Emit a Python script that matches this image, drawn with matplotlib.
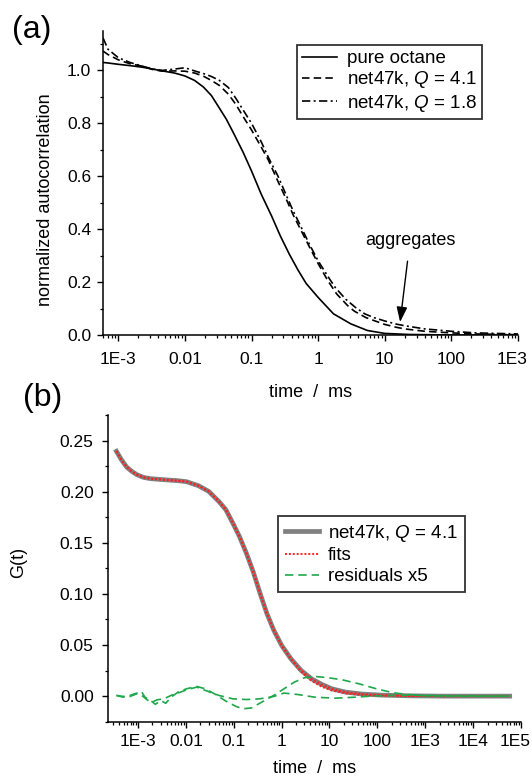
import numpy as np
import matplotlib
matplotlib.use("Agg")
import matplotlib.pyplot as plt
from matplotlib.ticker import FixedLocator, FixedFormatter, LogLocator, NullFormatter, MultipleLocator

plt.rcParams['font.family'] = ['Liberation Sans', 'DejaVu Sans']
plt.rcParams['mathtext.fontset'] = 'custom'
plt.rcParams['mathtext.rm'] = 'Liberation Sans'
plt.rcParams['mathtext.it'] = 'Liberation Sans:italic'

# ---------------- panel (a) data ----------------
t_oct = [5.9e-4, 7e-4, 1e-3, 1.5e-3, 2.3e-3, 3.3e-3, 4.6e-3, 7e-3, 0.01, 0.014, 0.019, 0.025,
         0.031, 0.042, 0.055, 0.075, 0.1, 0.14, 0.2, 0.27, 0.37, 0.5, 0.66, 1.0, 1.7, 3.1,
         5.5, 10, 23, 100, 1000]
g_oct = [1.030, 1.028, 1.023, 1.018, 1.012, 1.005, 0.998, 0.990, 0.979, 0.962, 0.937, 0.905,
         0.868, 0.815, 0.758, 0.690, 0.620, 0.532, 0.450, 0.375, 0.305, 0.245, 0.195, 0.142,
         0.080, 0.042, 0.017, 0.006, 0.002, 0.0, 0.0]

t_q41 = [5.9e-4, 7e-4, 1e-3, 1.5e-3, 2.3e-3, 3.3e-3, 4.6e-3, 7e-3, 0.01, 0.014, 0.019, 0.025,
         0.033, 0.045, 0.058, 0.075, 0.1, 0.14, 0.18, 0.25, 0.33, 0.42, 0.53, 0.75, 1.0, 1.4,
         1.9, 2.8, 3.5, 5.2, 7, 10, 15, 20, 40, 100, 230, 1000]
g_q41 = [1.073, 1.060, 1.040, 1.025, 1.016, 1.003, 0.997, 0.998, 0.997, 0.990, 0.978, 0.962,
         0.943, 0.910, 0.872, 0.825, 0.775, 0.710, 0.660, 0.580, 0.515, 0.455, 0.405, 0.330,
         0.270, 0.205, 0.155, 0.110, 0.090, 0.066, 0.054, 0.040, 0.029, 0.023, 0.014, 0.008,
         0.004, 0.001]

t_q18 = [5.9e-4, 7e-4, 1e-3, 1.5e-3, 2.3e-3, 3.3e-3, 4.6e-3, 7e-3, 0.01, 0.014, 0.019, 0.025,
         0.033, 0.045, 0.058, 0.075, 0.1, 0.14, 0.18, 0.25, 0.33, 0.42, 0.55, 0.75, 1.0, 1.5,
         1.8, 2.6, 3.6, 5, 7, 10, 15, 20, 40, 100, 230, 1000]
g_q18 = [1.123, 1.080, 1.048, 1.030, 1.016, 1.005, 1.000, 1.005, 1.010, 0.998, 0.988, 0.977,
         0.962, 0.935, 0.895, 0.850, 0.800, 0.730, 0.670, 0.600, 0.530, 0.470, 0.410, 0.340,
         0.280, 0.210, 0.180, 0.135, 0.105, 0.080, 0.065, 0.053, 0.041, 0.035, 0.023, 0.014,
         0.008, 0.004]

# ---------------- panel (b) data ----------------
t_b = [3.55e-4, 4.5e-4, 5.8e-4, 7.4e-4, 9.5e-4, 1.3e-3, 1.84e-3, 3.5e-3, 6.9e-3, 0.0103, 0.0184,
       0.030, 0.049, 0.0686, 0.1, 0.132, 0.184, 0.255, 0.355, 0.493, 0.685, 1.0, 1.56, 2.55,
       4.2, 6.9, 11.2, 21.7, 49, 122, 490, 2500, 13000, 58000]
g_data = [0.2395, 0.2313, 0.2241, 0.2199, 0.2166, 0.2140, 0.2127, 0.2117, 0.2107, 0.2098, 0.2058,
          0.2003, 0.1904, 0.1823, 0.1675, 0.1560, 0.1397, 0.1217, 0.1005, 0.0808, 0.0645, 0.0497,
          0.0366, 0.0252, 0.0170, 0.0115, 0.0072, 0.0039, 0.0020, 0.0010, 0.0003, 0.0, 0.0, 0.0]
g_fit1 = [0.2395, 0.2313, 0.2241, 0.2199, 0.2166, 0.2140, 0.2127, 0.2117, 0.2107, 0.2098, 0.2058,
          0.2003, 0.1904, 0.1823, 0.1675, 0.1560, 0.1397, 0.1217, 0.1005, 0.0808, 0.0645, 0.0497,
          0.0362, 0.0240, 0.0150, 0.0092, 0.0055, 0.0028, 0.0013, 0.0005, 0.0001, 0.0, 0.0, 0.0]
g_fit2 = [0.2395, 0.2313, 0.2241, 0.2199, 0.2166, 0.2140, 0.2127, 0.2117, 0.2107, 0.2098, 0.2058,
          0.2003, 0.1904, 0.1823, 0.1675, 0.1560, 0.1397, 0.1217, 0.1005, 0.0808, 0.0645, 0.0497,
          0.0366, 0.0252, 0.0170, 0.0115, 0.0072, 0.0039, 0.0020, 0.0010, 0.0003, 0.0, 0.0, 0.0]

t_r1 = [3.55e-4, 4.9e-4, 6.8e-4, 9.5e-4, 1.2e-3, 1.4e-3, 1.84e-3, 2.3e-3, 3.0e-3, 3.8e-3, 4.9e-3,
        6.9e-3, 0.0103, 0.0168, 0.0255, 0.042, 0.0686, 0.112, 0.156, 0.235, 0.418, 0.685, 1.12,
        1.84, 3.0, 4.9, 9.5, 18.4, 42, 95, 215, 490, 1100, 5800, 58000]
r1 = [0.0007, -0.0010, -0.0003, 0.0023, 0.0040, -0.0010, -0.0043, -0.0080, -0.0043, -0.0070, -0.0010,
      0.0040, 0.0072, 0.0095, 0.0072, 0.0016, -0.0049, -0.0101, -0.0124, -0.0115, -0.0049, 0.0007,
      0.0072, 0.0137, 0.0180, 0.0193, 0.0180, 0.0160, 0.0120, 0.0072, 0.0033, 0.0013, 0.0003, 0.0, 0.0]
t_r2 = [3.55e-4, 4.9e-4, 6.8e-4, 9.5e-4, 1.2e-3, 1.55e-3, 1.97e-3, 2.5e-3, 3.5e-3, 4.9e-3, 6.9e-3,
        0.0103, 0.0168, 0.028, 0.049, 0.095, 0.184, 0.355, 0.685, 1.12, 2.17, 4.9, 13.2, 35, 95,
        490, 2500, 58000]
r2 = [0.0007, -0.0003, 0.0007, 0.0030, 0.0007, -0.0036, -0.0059, -0.0036, -0.0026, 0.0007, 0.0030,
      0.0062, 0.0088, 0.0049, 0.0007, -0.0026, -0.0033, -0.0026, -0.0003, 0.0030, 0.0016, -0.0010,
      -0.0020, -0.0010, 0.0003, 0.0010, 0.0003, 0.0]

xtick_a = [1e-3, 1e-2, 1e-1, 1, 10, 100, 1000]
xlab_a = ['1E-3', '0.01', '0.1', '1', '10', '100', '1E3']
ytick_a = [0.0, 0.2, 0.4, 0.6, 0.8, 1.0]
ylab_a = ['0.0', '0.2', '0.4', '0.6', '0.8', '1.0']
xtick_b = [1e-3, 1e-2, 1e-1, 1, 10, 100, 1e3, 1e4, 1e5]
xlab_b = ['1E-3', '0.01', '0.1', '1', '10', '100', '1E3', '1E4', '1E5']
ytick_b = [0.0, 0.05, 0.10, 0.15, 0.20, 0.25]
ylab_b = ['0.00', '0.05', '0.10', '0.15', '0.20', '0.25']

FS = 12.5      # tick labels
FSL = 13.0     # axis titles
FSG = 13.5     # legends

fig = plt.figure(figsize=(5.32, 7.77), dpi=100)
W, H = 532.0, 777.0
axa = fig.add_axes([103 / W, 1 - 335 / H, (518 - 103) / W, (335 - 30.7) / H])
axb = fig.add_axes([108.3 / W, 1 - 721.7 / H, (521 - 108.3) / W, (721.7 - 415) / H])

TL = 4.5


def style(ax, xt, xl, yt, yl, yminor, xpad, ypad):
    ax.set_xscale('log')
    for s in ['top', 'right']:
        ax.spines[s].set_visible(False)
    for s in ['left', 'bottom']:
        ax.spines[s].set_linewidth(1.1)
    ax.xaxis.set_major_locator(FixedLocator(xt))
    # last label is drawn separately, nudged left like the reference
    ax.xaxis.set_major_formatter(FixedFormatter(list(xl[:-1]) + ['']))
    ax.xaxis.set_minor_locator(LogLocator(base=10, subs=np.arange(2, 10), numticks=100))
    ax.xaxis.set_minor_formatter(NullFormatter())
    ax.yaxis.set_major_locator(FixedLocator(yt))
    ax.yaxis.set_major_formatter(FixedFormatter(yl))
    ax.yaxis.set_minor_locator(MultipleLocator(yminor))
    ax.tick_params(axis='both', which='major', direction='out', length=TL, width=1.0,
                   labelsize=FS, color='black')
    ax.tick_params(axis='both', which='minor', direction='out', length=2.5, width=0.9)
    ax.tick_params(axis='x', which='major', pad=xpad)
    ax.tick_params(axis='y', which='major', pad=ypad)
    ax.annotate(xl[-1], xy=(xt[-1], 0), xycoords=('data', 'axes fraction'),
                xytext=(-4.2, -(TL + xpad)), textcoords='offset points',
                ha='center', va='top', fontsize=FS, annotation_clip=False)


# ---------- panel (a) ----------
axa.plot(t_oct, g_oct, color='black', lw=1.2, ls='-', label='pure octane')
axa.plot(t_q41, g_q41, color='black', lw=1.2, ls=(0, (4.5, 2.5)), label='net47k, $Q$ = 4.1')
axa.plot(t_q18, g_q18, color='black', lw=1.2, ls=(0, (5, 2, 1.2, 2)), label='net47k, $Q$ = 1.8')
style(axa, xtick_a, xlab_a, ytick_a, ylab_a, 0.1, 7.5, 4)
axa.set_xlim(5.9e-4, 1000)
axa.set_ylim(0, 1.15)
axa.set_xlabel('time  /  ms', fontsize=FSL)
axa.xaxis.set_label_coords(0.5, -0.162)
axa.set_ylabel('normalized autocorrelation', fontsize=FSL)
axa.yaxis.set_label_coords(-0.118, 0.445)
leg = axa.legend(loc='upper left', bbox_to_anchor=(0.4675, 0.953), borderaxespad=0,
                 fontsize=FSG, frameon=True, fancybox=False, handlelength=1.87,
                 handletextpad=0.5, labelspacing=0.11, borderpad=0.28)
leg.get_frame().set_edgecolor('black')
leg.get_frame().set_linewidth(1.3)
axa.annotate('aggregates', xy=(17, 0.049), xytext=(24, 0.358), fontsize=FSL,
             ha='center', va='center',
             arrowprops=dict(arrowstyle='-|>,head_length=0.7,head_width=0.25', color='black',
                             lw=1.0, shrinkA=7, shrinkB=0))
fig.text(12 / W, 1 - 30 / H, '(a)', fontsize=23, ha='left', va='center')

# ---------- panel (b) ----------
axb.plot(t_b, g_data, color='#808080', lw=3.4, label='net47k, $Q$ = 4.1', zorder=2)
axb.plot(t_b, g_fit1, color='#ff2020', lw=1.4, ls=(0, (1, 1)), label='fits', zorder=3)
axb.plot(t_b, g_fit2, color='#ff2020', lw=1.4, ls=(0, (1, 1)), zorder=3)
axb.plot(t_r1, r1, color='#1fa84a', lw=1.2, ls=(0, (5, 3)), label='residuals x5', zorder=4)
axb.plot(t_r2, r2, color='#1fa84a', lw=1.2, ls=(0, (5, 3)), zorder=4)
style(axb, xtick_b, xlab_b, ytick_b, ylab_b, 0.025, 4, 6)
axb.set_xlim(2.4e-4, 1e5)
axb.set_ylim(-0.025, 0.275)
axb.set_xlabel('time  /  ms', fontsize=FSL)
axb.xaxis.set_label_coords(0.5, -0.125)
axb.set_ylabel('G(t)', fontsize=FSL)
axb.yaxis.set_label_coords(-0.197, 0.52)
legb = axb.legend(loc='upper left', bbox_to_anchor=(0.411, 0.672), borderaxespad=0,
                  fontsize=FSG, frameon=True, fancybox=False, handlelength=1.8,
                  handletextpad=0.5, labelspacing=0.19, borderpad=0.38)
legb.get_frame().set_edgecolor('black')
legb.get_frame().set_linewidth(1.3)
fig.text(23 / W, 1 - 398 / H, '(b)', fontsize=23, ha='left', va='center')

fig.savefig('out.png', dpi=100)
